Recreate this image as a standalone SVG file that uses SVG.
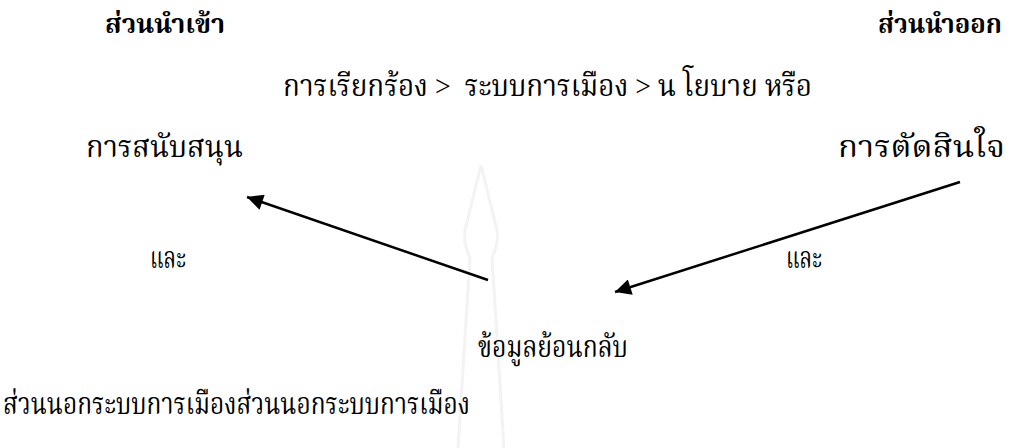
<svg xmlns="http://www.w3.org/2000/svg" width="1011" height="448" viewBox="0 0 1011 448">
<style>
text{font-family:"Liberation Serif","Noto Serif Thai","Noto Sans Thai","Noto Sans",serif;font-size:30px;fill:#000}
.b{font-weight:bold;font-size:27px}
.c{stroke:#000;stroke-width:2.5;fill:none}
</style>
<defs>
<marker id="a" viewBox="0 0 10 10" refX="10" refY="5" markerWidth="18" markerHeight="16" markerUnits="userSpaceOnUse" orient="auto"><path d="M0,0 L10,5 L0,10 Z" fill="#000"/></marker>
</defs>
<g id="watermark" fill="none" stroke="#f3f3f3" stroke-width="3">
<path d="M481,165 L467,222 Q462,237 467,250 L470,258 L458,448"/>
<path d="M481,165 L495,222 Q500,237 495,250 L492,258 L504,448"/>
</g>
<g id="input-title"><text class="b" x="105" y="33" textLength="120" lengthAdjust="spacingAndGlyphs">ส่วนนำเข้า</text></g>
<g id="output-title"><text class="b" x="878" y="33" textLength="124" lengthAdjust="spacingAndGlyphs">ส่วนนำออก</text></g>
<g id="flow"><text x="283" y="96" xml:space="preserve" textLength="529" lengthAdjust="spacingAndGlyphs">การเรียกร้อง &gt;  ระบบการเมือง &gt; น โยบาย หรือ</text></g>
<g id="support"><text x="86" y="157" textLength="157" lengthAdjust="spacingAndGlyphs">การสนับสนุน</text></g>
<g id="decision"><text x="838" y="157" textLength="167" lengthAdjust="spacingAndGlyphs">การตัดสินใจ</text></g>
<g id="and-left"><text x="150" y="268" textLength="36" lengthAdjust="spacingAndGlyphs">และ</text></g>
<g id="and-right"><text x="786" y="268" textLength="36" lengthAdjust="spacingAndGlyphs">และ</text></g>
<g id="feedback"><text x="478" y="357" textLength="150" lengthAdjust="spacingAndGlyphs">ข้อมูลย้อนกลับ</text></g>
<g id="environment"><text x="3" y="414" textLength="467" lengthAdjust="spacingAndGlyphs">ส่วนนอกระบบการเมืองส่วนนอกระบบการเมือง</text></g>
<g id="connectors">
<line class="c" x1="488" y1="280" x2="247" y2="197" marker-end="url(#a)"/>
<line class="c" x1="960" y1="182" x2="615" y2="292" marker-end="url(#a)"/>
</g>
</svg>
